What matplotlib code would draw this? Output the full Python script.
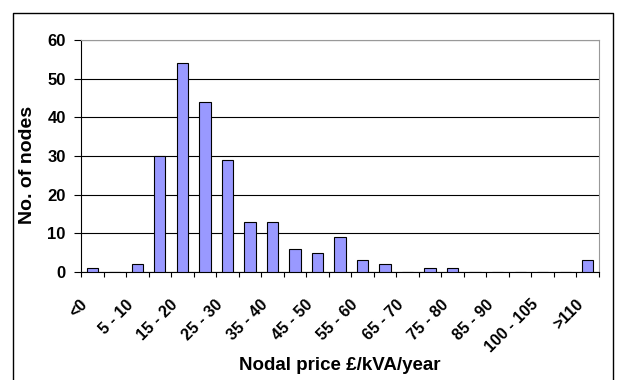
import matplotlib
matplotlib.use('Agg')
import matplotlib.pyplot as plt
from matplotlib.lines import Line2D

plt.rcParams['font.family'] = ['Liberation Sans', 'DejaVu Sans']
plt.rcParams['font.weight'] = 'bold'

categories = ['<0', '0 - 5', '5 - 10', '10 - 15', '15 - 20', '20 - 25', '25 - 30',
              '30 - 35', '35 - 40', '40 - 45', '45 - 50', '50 - 55', '55 - 60',
              '60 - 65', '65 - 70', '70 - 75', '75 - 80', '80 - 85', '85 - 90',
              '90 - 100', '100 - 105', '105 - 110', '>110']
counts = [1, 0, 2, 30, 54, 44, 29, 13, 13, 6, 5, 9, 3, 2, 0, 1, 1, 0, 0, 0, 0, 0, 3]
y_ticks = [0, 10, 20, 30, 40, 50, 60]

fig = plt.figure(figsize=(6.22, 3.80), dpi=100)
ax = fig.add_axes([81/622, 1 - 272/380, (599 - 81)/622, (272 - 40)/380])

x = list(range(len(categories)))
ax.bar(x, counts, width=0.5, color='#9999FF', edgecolor='black', linewidth=0.8, zorder=3)

ax.set_xlim(-0.5, len(categories) - 0.5)
ax.set_ylim(0, 60)
ax.set_yticks(y_ticks)
ax.tick_params(axis='y', labelsize=12, length=5, width=0.8, pad=6)

# tick marks sit on category boundaries, every other category is labelled
ax.set_xticks([i - 0.5 for i in range(len(categories) + 1)])
ax.set_xticklabels([])
ax.tick_params(axis='x', length=3.5, width=0.8)
for i in range(0, len(categories), 2):
    ax.text(i - 0.3, -7.8, categories[i], rotation=45, ha='right', va='center',
            fontsize=11.5, fontweight='bold', rotation_mode='anchor', clip_on=False)

ax.yaxis.grid(True, color='black', linewidth=0.8, zorder=0)
ax.spines['top'].set_color('#999999')
ax.spines['right'].set_color('#999999')

fig.text(28/622, 1 - 165/380, 'No. of nodes', rotation=90, ha='center', va='center',
         fontsize=14, fontweight='bold')
fig.text(340/622, 1 - 366/380, 'Nodal price £/kVA/year',
         ha='center', va='center', fontsize=13.5, fontweight='bold')

# outer chart border (open at the bottom)
l, r, t = 13/622, 613/622, 1 - 13/380
fig.add_artist(Line2D([l, l, r, r], [0, t, t, 0], color='black', linewidth=1,
                      transform=fig.transFigure))

plt.savefig('out.png', dpi=100)
